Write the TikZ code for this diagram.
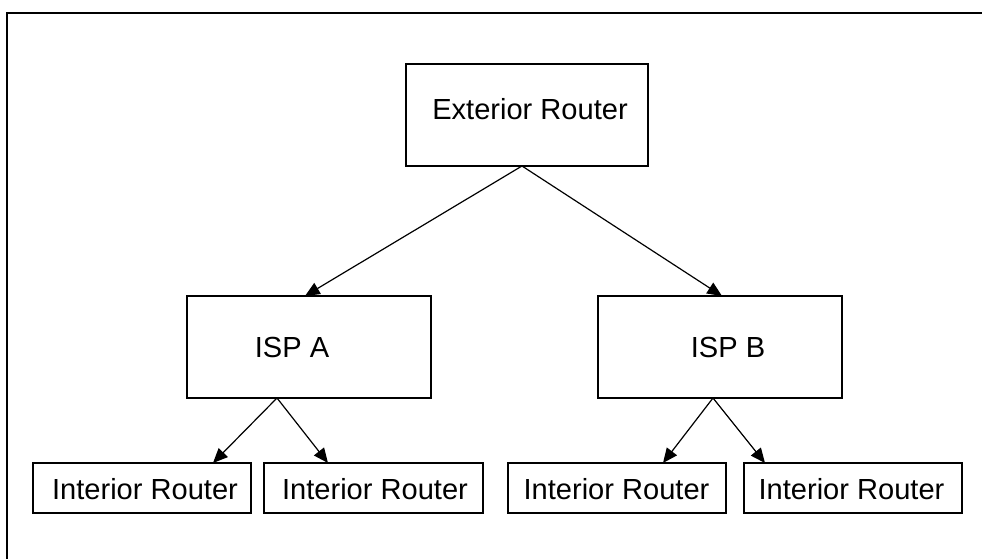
\documentclass[tikz,border=0pt]{standalone}
\usepackage{fontspec}
\setmainfont{Liberation Sans}
\usetikzlibrary{calc,arrows.meta}
\begin{document}
\begin{tikzpicture}[x=0.75pt,y=-0.75pt,
  box/.style={draw=black,line width=1pt,inner sep=0pt,outer sep=0pt,fill=white},
  lbl/.style={anchor=base,inner sep=0pt,font=\fontsize{21.8pt}{26pt}\selectfont},
  conn/.style={draw=black,line width=0.9pt,-{Triangle[length=11pt,width=9.5pt]}},
  frame/.style={draw=black,line width=1.2pt}]
\useasboundingbox (0,0) rectangle (982,559);
\draw[frame] (7,559) -- (7,13) -- (982,13);
% boxes
\node[box,minimum width=242*0.75pt,minimum height=102*0.75pt] (ext) at (527,115) {};
\node[box,minimum width=244*0.75pt,minimum height=102*0.75pt] (ispa) at (309,347) {};
\node[box,minimum width=244*0.75pt,minimum height=102*0.75pt] (ispb) at (720,347) {};
\node[box,minimum width=218*0.75pt,minimum height=50*0.75pt] (ir1) at (142,488) {};
\node[box,minimum width=219*0.75pt,minimum height=50*0.75pt] (ir2) at (373.5,488) {};
\node[box,minimum width=218*0.75pt,minimum height=50*0.75pt] (ir3) at (617,488) {};
\node[box,minimum width=218*0.75pt,minimum height=50*0.75pt] (ir4) at (853,488) {};
% labels
\node[lbl] (extl) at (530,120) {Exterior Router};
\node[lbl] (ispal) at (292,358) {ISP A};
\node[lbl] (ispbl) at (728,358) {ISP B};
\node[lbl] (ir1l) at (145,499) {Interior Router};
\node[lbl] (ir2l) at (375,499) {Interior Router};
\node[lbl] (ir3l) at (616.5,499) {Interior Router};
\node[lbl] (ir4l) at (851.5,499) {Interior Router};
% connectors
\draw[conn] ($(ext.south)+(-5,0)$) -- ($(ispa.north)+(-4,0)$);
\draw[conn] ($(ext.south)+(-5,0)$) -- ($(ispb.north)+(2,0)$);
\draw[conn] ($(ispa.south)+(-32,0)$) -- ($(ir1.north)+(71,0)$);
\draw[conn] ($(ispa.south)+(-32,0)$) -- ($(ir2.north)+(-45.5,0)$);
\draw[conn] ($(ispb.south)+(-7,0)$) -- ($(ir3.north)+(46,0)$);
\draw[conn] ($(ispb.south)+(-7,0)$) -- ($(ir4.north)+(-88,0)$);
\end{tikzpicture}
\end{document}
